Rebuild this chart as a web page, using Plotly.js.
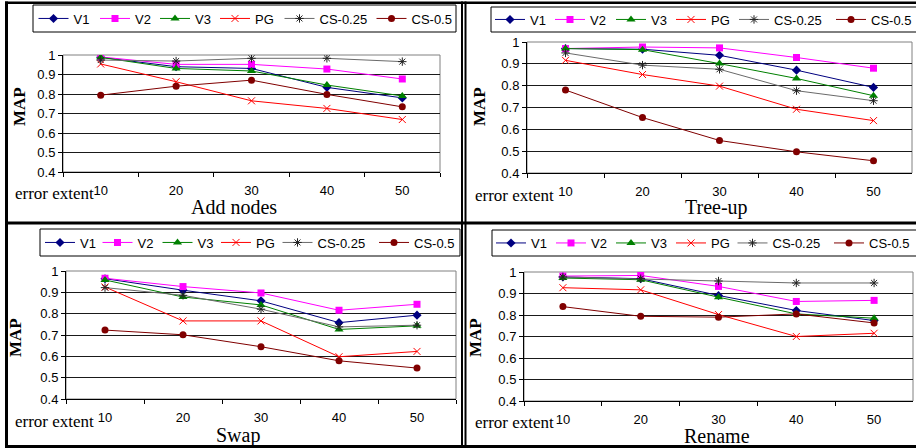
<!DOCTYPE html>
<html><head><meta charset="utf-8">
<script src="https://cdn.plot.ly/plotly-3.0.1.min.js"></script>
<style>html,body{margin:0;padding:0;background:#fff}</style>
</head><body><div id="chart" style="width:916px;height:448px"></div>
<script>
// ---------- data ----------
const categories = ['10','20','30','40','50'];
const seriesNames = ['V1','V2','V3','PG','CS-0.25','CS-0.5'];
const panelTitles = ['Add nodes','Tree-up','Swap','Rename'];
const yTickVals = [0.4,0.5,0.6,0.7,0.8,0.9,1];
const yTickText = ['0.4','0.5','0.6','0.7','0.8','0.9','1'];
const yLabel = 'MAP';
const xLabel = 'error extent';

const addV1   = [0.988,0.940,0.931,0.834,0.780];
const addV2   = [0.990,0.952,0.952,0.928,0.877];
const addV3   = [0.988,0.931,0.918,0.846,0.790];
const addPG   = [0.954,0.863,0.765,0.726,0.669];
const addCS25 = [0.974,0.969,0.983,0.983,0.966];
const addCS50 = [0.794,0.840,0.871,0.798,0.734];

const treeV1   = [0.970,0.967,0.939,0.871,0.792];
const treeV2   = [0.970,0.977,0.973,0.929,0.880];
const treeV3   = [0.970,0.965,0.901,0.833,0.754];
const treePG   = [0.916,0.851,0.798,0.692,0.640];
const treeCS25 = [0.950,0.894,0.875,0.777,0.731];
const treeCS50 = [0.780,0.654,0.549,0.497,0.456];

const swapV1   = [0.964,0.910,0.860,0.758,0.793];
const swapV2   = [0.966,0.927,0.897,0.816,0.844];
const swapV3   = [0.958,0.878,0.841,0.726,0.743];
const swapPG   = [0.925,0.766,0.766,0.598,0.623];
const swapCS25 = [0.922,0.886,0.821,0.738,0.746];
const swapCS50 = [0.723,0.701,0.645,0.579,0.545];

const renV1   = [0.977,0.969,0.891,0.821,0.774];
const renV2   = [0.981,0.984,0.933,0.863,0.868];
const renV3   = [0.972,0.964,0.883,0.805,0.785];
const renPG   = [0.927,0.917,0.802,0.700,0.715];
const renCS25 = [0.977,0.969,0.958,0.949,0.949];
const renCS50 = [0.839,0.794,0.790,0.805,0.763];

const panelData = [
  [addV1,addV2,addV3,addPG,addCS25,addCS50],
  [treeV1,treeV2,treeV3,treePG,treeCS25,treeCS50],
  [swapV1,swapV2,swapV3,swapPG,swapCS25,swapCS50],
  [renV1,renV2,renV3,renPG,renCS25,renCS50]
];

// ---------- styles ----------
const styles = [
  {line:'#000080', marker:{symbol:'diamond', size:7, color:'#000080'}},
  {line:'#FF00FF', marker:{symbol:'square', size:7, color:'#FF00FF'}},
  {line:'#008000', marker:{symbol:'triangle-up', size:8, color:'#008000'}},
  {line:'#FF0000', marker:{symbol:'x-thin-open', size:7, color:'#FF0000', line:{color:'#FF0000', width:1}}},
  {line:'#6a6a6a', marker:{symbol:'asterisk-open', size:7, color:'#222222', line:{color:'#222222', width:1}}},
  {line:'#800000', marker:{symbol:'circle', size:7, color:'#800000'}}
];

const W = 916, H = 448;
const px = x => x / W;
const py = y => 1 - y / H;

// pixel geometry per panel
const geo = [
  {plot:[63,440,55,172],  legend:[33,456,5,32],    sym:[53.5,115,175,235,299.5,391.5], err:[13,193],  title:[234,207], map:[19,107]},
  {plot:[527,912,42,173], legend:[491,930,7,32],   sym:[510,570,631,691,754,851],      err:[473,195], title:[716,207], map:[479,107]},
  {plot:[66,456,271,399], legend:[40,460,229,256], sym:[60,117.5,177.5,236,297.5,394], err:[13,421],  title:[238,435], map:[15,338]},
  {plot:[524,913,272,401],legend:[492,930,230,256],sym:[511,571,631,691,752.5,849],    err:[473,422], title:[717,436], map:[475,338]}
];

const traces = [];
const layout = {
  width: W, height: H,
  margin: {l:0, r:0, t:0, b:0, autoexpand:false},
  paper_bgcolor: '#fff', plot_bgcolor: '#fff',
  showlegend: true,
  shapes: [], annotations: []
};

const sans = 'Liberation Sans, Arial, sans-serif';
const serif = 'Liberation Serif, Times New Roman, serif';

geo.forEach((g, p) => {
  const sfx = p === 0 ? '' : String(p + 1);
  const xa = 'x' + sfx, ya = 'y' + sfx;
  panelData[p].forEach((vals, i) => {
    const s = styles[i];
    const k = p * 6 + i;
    const legName = k === 0 ? 'legend' : 'legend' + (k + 1);
    traces.push({
      type: 'scatter', mode: 'lines+markers',
      x: categories, y: vals, name: seriesNames[i],
      xaxis: xa, yaxis: ya, legend: legName,
      line: {color: s.line, width: 1},
      marker: s.marker,
      hoverinfo: 'skip'
    });
    layout[legName] = {
      orientation: 'h', x: px(g.sym[i] - 20), xanchor: 'left',
      y: py((g.legend[2] + g.legend[3]) / 2), yanchor: 'middle',
      bgcolor: 'rgba(0,0,0,0)', borderwidth: 0,
      font: {family: sans, size: 13, color: '#000'}
    };
  });
  layout['xaxis' + sfx] = {
    domain: [px(g.plot[0]), px(g.plot[1])],
    anchor: ya, type: 'category', range: [-0.5, 4.5],
    tickson: 'boundaries', ticks: 'outside', ticklen: 4, tickcolor: '#000',
    showline: true, linecolor: '#000', linewidth: 1,
    showgrid: false, zeroline: false, fixedrange: true,
    ticklabelstandoff: 6,
    tickfont: {family: sans, size: 13, color: '#000'}
  };
  layout['yaxis' + sfx] = {
    domain: [py(g.plot[3]), py(g.plot[2])],
    anchor: xa, range: [0.4, 1],
    tickvals: yTickVals, ticktext: yTickText,
    ticks: 'outside', ticklen: 4, tickcolor: '#000',
    showline: true, linecolor: '#000', linewidth: 1,
    showgrid: true, gridcolor: '#1a1a1a', gridwidth: 1,
    zeroline: false, fixedrange: true,
    tickfont: {family: sans, size: 13, color: '#000'}
  };
  // legend box
  layout.shapes.push({type:'rect', xref:'paper', yref:'paper',
    x0: px(g.legend[0]), x1: px(g.legend[1]), y0: py(g.legend[3]), y1: py(g.legend[2]),
    line:{color:'#000', width:1}, fillcolor:'rgba(0,0,0,0)'});
  // plot area border
  layout.shapes.push({type:'rect', xref: xa + ' domain', yref: ya + ' domain',
    x0:0, x1:1, y0:0, y1:1, line:{color:'#808080', width:1}, layer:'below'});
  // texts
  layout.annotations.push({xref:'paper', yref:'paper', x: px(g.err[0]), y: py(g.err[1]),
    xanchor:'left', yanchor:'middle', showarrow:false, text: xLabel,
    font:{family: serif, size: 17, color:'#000'}});
  layout.annotations.push({xref:'paper', yref:'paper', x: px(g.title[0]), y: py(g.title[1]),
    xanchor:'center', yanchor:'middle', showarrow:false, text: panelTitles[p],
    font:{family: serif, size: 20, color:'#000'}});
  layout.annotations.push({xref:'paper', yref:'paper', x: px(g.map[0]), y: py(g.map[1]),
    xanchor:'center', yanchor:'middle', showarrow:false, text: '<b>' + yLabel + '</b>', textangle: -90,
    font:{family: serif, size: 17, color:'#000'}});
});

// panel frame lines (black)
const frames = [
  [5, 8, 1.5, 447],
  [5, 916, 1.5, 4],
  [5, 916, 221.5, 224.5],
  [5, 916, 445, 448],
  [461, 463, 1.5, 448],
  [464.5, 466.5, 1.5, 448]
];
frames.forEach(f => layout.shapes.push({type:'rect', xref:'paper', yref:'paper',
  x0: px(f[0]), x1: px(f[1]), y0: py(f[3]), y1: py(f[2]),
  line:{width:0}, fillcolor:'#000'}));

Plotly.newPlot('chart', traces, layout, {displayModeBar:false, staticPlot:true});
</script></body></html>
